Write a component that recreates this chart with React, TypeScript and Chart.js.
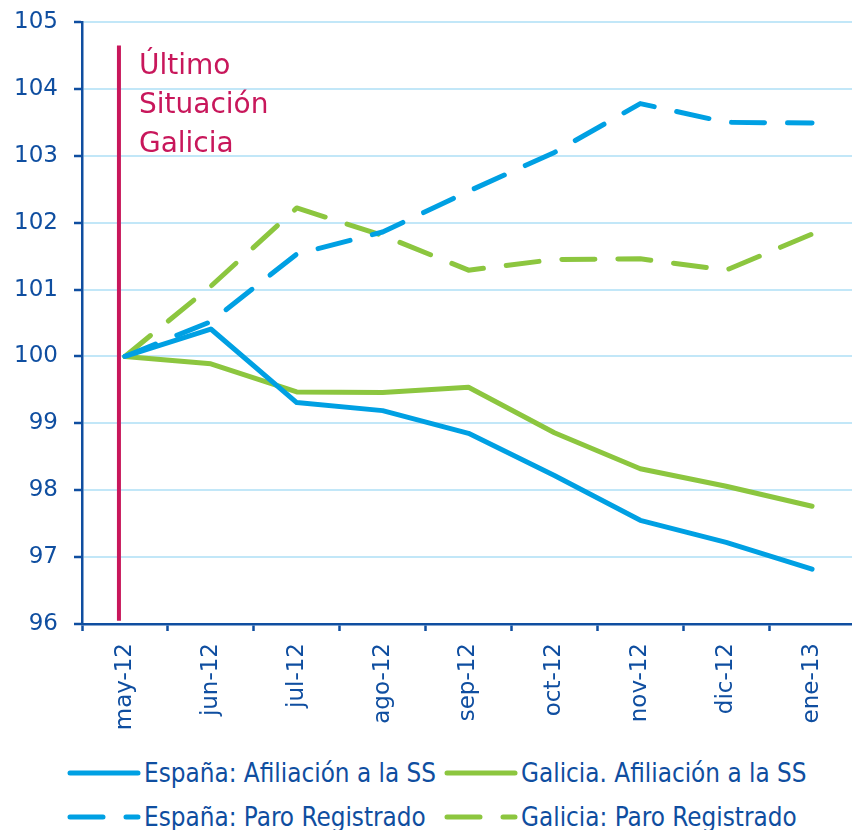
import React, { useEffect, useRef } from "react";
import { Chart, registerables } from "chart.js";

Chart.register(...registerables);

const categories = ["may-12", "jun-12", "jul-12", "ago-12", "sep-12", "oct-12", "nov-12", "dic-12", "ene-13"];
const espanaAfiliacion = [100, 100.41, 99.31, 99.19, 98.85, 98.22, 97.55, 97.22, 96.82];
const galiciaAfiliacion = [100, 99.89, 99.47, 99.46, 99.54, 98.86, 98.32, 98.06, 97.76];
const espanaParo = [100, 100.52, 101.53, 101.86, 102.47, 103.05, 103.78, 103.5, 103.49];
const galiciaParo = [100, 101.05, 102.22, 101.81, 101.29, 101.45, 101.46, 101.29, 101.83];
const seriesLabels = [
  "España: Afiliación a la SS",
  "Galicia. Afiliación a la SS",
  "España: Paro Registrado",
  "Galicia: Paro Registrado",
];
const annotationLines = ["Último", "Situación", "Galicia"];
const yMin = 96;
const yMax = 105;

const AXIS = "#0F4EA0";
const GRID = "#C2E7F8";
const BLUE = "#00A0E3";
const GREEN = "#8CC63F";
const CRIMSON = "#C8175B";
const DASH = [33, 23];

const legendItems = [
  { label: seriesLabels[0], color: BLUE, dashed: false },
  { label: seriesLabels[1], color: GREEN, dashed: false },
  { label: seriesLabels[2], color: BLUE, dashed: true },
  { label: seriesLabels[3], color: GREEN, dashed: true },
];

export default function App() {
  const ref = useRef<HTMLCanvasElement>(null);

  useEffect(() => {
    if (!ref.current) return;
    const marker = {
      id: "marker",
      afterDatasetsDraw(chart: any) {
        const { ctx, scales } = chart;
        const x = scales.x;
        const y = scales.y;
        const px = x.getPixelForValue(0) - 6;
        ctx.save();
        ctx.strokeStyle = CRIMSON;
        ctx.lineWidth = 4;
        ctx.beginPath();
        ctx.moveTo(px, y.getPixelForValue(104.65));
        ctx.lineTo(px, y.getPixelForValue(96.05));
        ctx.stroke();
        ctx.fillStyle = CRIMSON;
        ctx.font = '28px "DejaVu Sans"';
        ctx.textBaseline = "alphabetic";
        ctx.textAlign = "left";
        annotationLines.forEach((t, i) => {
          ctx.fillText(t, px + 20, y.top + 52 + i * 39);
        });
        ctx.restore();
      },
    };

    const common = {
      pointRadius: 0,
      pointHoverRadius: 0,
      borderWidth: 5,
      tension: 0,
      borderCapStyle: "round" as const,
      borderJoinStyle: "round" as const,
      fill: false,
    };

    const chart = new Chart(ref.current, {
      type: "line",
      data: {
        labels: categories,
        datasets: [
          { ...common, label: seriesLabels[0], data: espanaAfiliacion, borderColor: BLUE },
          { ...common, label: seriesLabels[1], data: galiciaAfiliacion, borderColor: GREEN },
          { ...common, label: seriesLabels[2], data: espanaParo, borderColor: BLUE, borderDash: DASH },
          { ...common, label: seriesLabels[3], data: galiciaParo, borderColor: GREEN, borderDash: DASH },
        ],
      },
      options: {
        animation: false,
        responsive: false,
        maintainAspectRatio: false,
        layout: { padding: { top: 22, right: 1, left: 0, bottom: 0 } },
        plugins: { legend: { display: false }, tooltip: { enabled: false } },
        scales: {
          x: {
            offset: true,
            grid: { offset: true, drawOnChartArea: false, tickLength: 7, tickColor: AXIS, tickWidth: 2.5 },
            border: { color: AXIS, width: 2.5 },
            ticks: {
              color: AXIS,
              font: { family: "DejaVu Sans", size: 23 },
              minRotation: 90,
              maxRotation: 90,
              padding: 12,
              autoSkip: false,
            },
            afterFit: (s: any) => {
              s.height = 121;
              s.paddingLeft = 0;
              s.paddingRight = 0;
            },
          },
          y: {
            min: yMin,
            max: yMax,
            ticks: {
              stepSize: 1,
              color: AXIS,
              font: { family: "DejaVu Sans", size: 23 },
              padding: 16,
            },
            grid: { color: GRID, lineWidth: 2, tickLength: 8, tickColor: AXIS, tickWidth: 2.5 },
            border: { color: AXIS, width: 2.5 },
            afterFit: (s: any) => {
              s.width = 82;
              s.paddingTop = 0;
              s.paddingBottom = 0;
            },
          },
        },
      },
      plugins: [marker],
    });
    return () => chart.destroy();
  }, []);

  return (
    <div
      style={{
        position: "absolute",
        left: 0,
        top: 0,
        width: 852,
        height: 830,
        overflow: "hidden",
        background: "#fff",
      }}
    >
      <canvas ref={ref} width={856} height={745} style={{ display: "block" }} />
      {legendItems.map((it, i) => {
        const col = i % 2;
        const row = Math.floor(i / 2);
        return (
          <div
            key={it.label}
            style={{
              position: "absolute",
              left: col === 0 ? 64 : 441,
              top: row === 0 ? 758 : 802,
              height: 30,
              display: "flex",
              alignItems: "center",
              whiteSpace: "nowrap",
              fontFamily: '"DejaVu Sans Condensed", "DejaVu Sans"',
              fontStretch: "condensed",
              fontSize: 25.8,
              color: AXIS,
            }}
          >
            <svg width={78} height={10} style={{ display: "block" }}>
              <line
                x1={6}
                y1={5}
                x2={74}
                y2={5}
                stroke={it.color}
                strokeWidth={5}
                strokeLinecap="round"
                strokeDasharray={it.dashed ? DASH.join(" ") : undefined}
              />
            </svg>
            <span style={{ marginLeft: 2 }}>{it.label}</span>
          </div>
        );
      })}
    </div>
  );
}
